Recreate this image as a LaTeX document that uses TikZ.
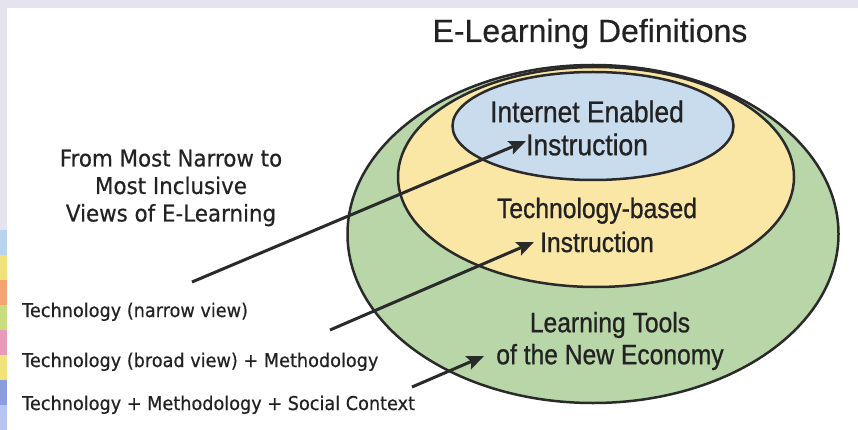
\documentclass[tikz,border=0pt]{standalone}
\usepackage{fontspec}
\usetikzlibrary{shapes.geometric,arrows.meta}
\newfontfamily\arialfont[FakeBold=0.4]{Liberation Sans}
\newfontfamily\narrowfont[FakeStretch=0.88,FakeBold=0.8]{Liberation Sans}
\newfontfamily\tahomafont[FakeStretch=0.93,FakeBold=0.5]{DejaVu Sans}
\definecolor{outline}{HTML}{2A2A2A}
\definecolor{textcol}{HTML}{222222}
\definecolor{greenfill}{HTML}{B8D6A8}
\definecolor{yellowfill}{HTML}{FAE6A5}
\definecolor{bluefill}{HTML}{C8DCEE}
\definecolor{framecol}{HTML}{E4E3EE}
\begin{document}
\begin{tikzpicture}[x=1pt, y=-1pt,
    ring/.style={ellipse, draw=outline, line width=2.5pt, inner sep=0pt},
    inlabel/.style={text=textcol, align=center},
    viewtext/.style={text=textcol, anchor=base west, inner sep=0pt, font=\tahomafont\fontsize{19}{22}\selectfont},
    pointer/.style={draw=outline, line width=3pt, -{Stealth[length=17pt,width=14pt,inset=3pt]}}]
    \useasboundingbox (0,0) rectangle (858,430);
    \fill[framecol] (0,0) rectangle (858,430);
    \fill[white] (7,8) rectangle (858,430);
    \foreach \c [count=\i] in {B8D4EE,F2E27A,F4A470,C8DC80,E89AB8,F2E27A,8C9CE0,B8C4F0}{
      \definecolor{stripcol}{HTML}{\c}
      \fill[stripcol] (0,205+\i*25) rectangle (7,230+\i*25);
    }

    \node[ring, fill=greenfill, minimum width=491pt, minimum height=338pt] (tools) at (593,234) {};
    \node[ring, fill=yellowfill, minimum width=396pt, minimum height=220pt] (tech) at (596,177) {};
    \node[ring, fill=bluefill, minimum width=281pt, minimum height=108pt] (inet) at (593,126) {};

    \node[text=textcol, anchor=base, font=\arialfont\fontsize{32}{36}\selectfont] (title) at (590,42) {E-Learning Definitions};
    \node[inlabel, font=\narrowfont\fontsize{30}{33}\selectfont] (inetlabel) at (587,128) {Internet Enabled\\Instruction};
    \node[inlabel, font=\narrowfont\fontsize{28}{34}\selectfont] (techlabel) at (597,225) {Technology-based\\Instruction};
    \node[inlabel, font=\narrowfont\fontsize{28}{32}\selectfont] (toolslabel) at (610,341) {Learning Tools\\of the New Economy};

    \node[inlabel, font=\tahomafont\fontsize{23}{27.5}\selectfont] (views) at (171,188) {From Most Narrow to\\Most Inclusive\\Views of E-Learning};
    \node[viewtext] (narrow) at (22,317) {Technology (narrow view)};
    \node[viewtext] (broad) at (22,367) {Technology (broad view) + Methodology};
    \node[viewtext] (social) at (22,410) {Technology + Methodology + Social Context};

    \coordinate (s1) at (192,282);
    \coordinate (e1) at (526,141);
    \coordinate (s2) at (330,330);
    \coordinate (e2) at (534,242);
    \coordinate (s3) at (412,387);
    \coordinate (e3) at (484,356);

    % 矢印を引く
    \draw[pointer] (s1) -- (e1);
    \draw[pointer] (s2) -- (e2);
    \draw[pointer] (s3) -- (e3);
\end{tikzpicture}
\end{document}
